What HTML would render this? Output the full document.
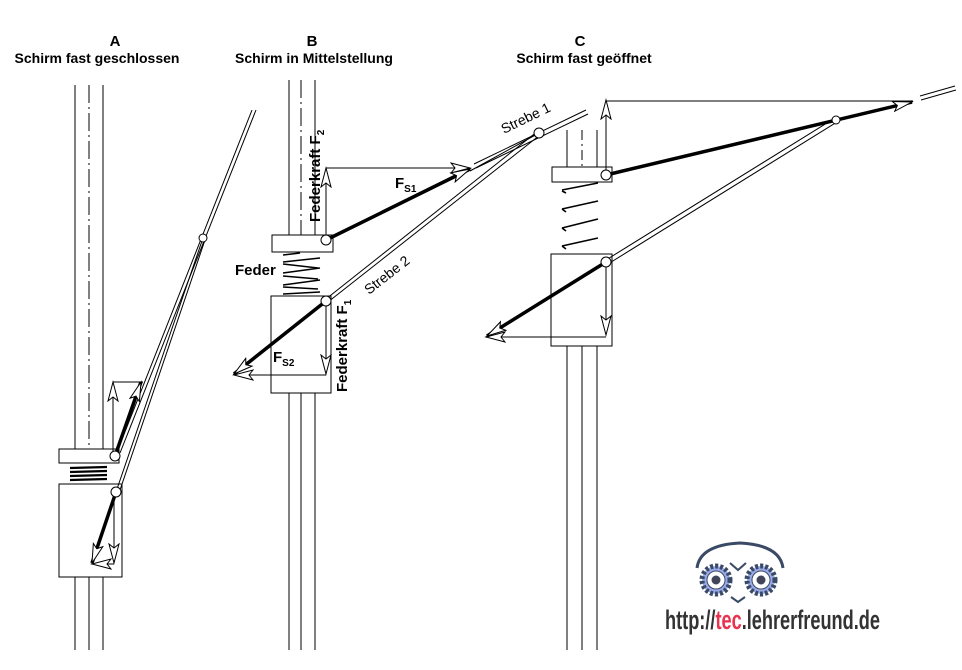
<!DOCTYPE html>
<html><head><meta charset="utf-8"><style>
html,body{margin:0;padding:0;background:#fff}
svg{display:block}
text{font-family:"Liberation Sans",Arial,sans-serif}
</style></head><body>
<svg width="962" height="670" viewBox="0 0 962 670" xmlns="http://www.w3.org/2000/svg">
<defs>
<marker id="ah" markerWidth="22" markerHeight="14" refX="20" refY="7" orient="auto" markerUnits="userSpaceOnUse">
<path d="M1,2 L20,7 L1,12 L5,7 Z" fill="#fff" stroke="#000" stroke-width="1"/>
</marker>
</defs>
<g font-weight="bold" font-size="15" text-anchor="middle" fill="#000">
<text x="115" y="46">A</text>
<text x="97" y="63" font-size="14">Schirm fast geschlossen</text>
<text x="312" y="46">B</text>
<text x="314" y="63" font-size="14">Schirm in Mittelstellung</text>
<text x="580" y="46">C</text>
<text x="584" y="63" font-size="14">Schirm fast geöffnet</text>
</g>

<!-- ===== A ===== -->
<g stroke="#000" stroke-width="1" fill="none">
<line x1="75" y1="85" x2="75" y2="449"/><line x1="103" y1="85" x2="103" y2="449"/>
<line x1="89" y1="85" x2="89" y2="449" stroke-dasharray="18,4,2,4"/>
<line x1="75" y1="577" x2="75" y2="650"/><line x1="103" y1="577" x2="103" y2="650"/><line x1="89" y1="577" x2="89" y2="650"/>
<rect x="59" y="449" width="60" height="14" fill="#fff"/>
<rect x="59" y="484" width="63" height="93" fill="#fff"/>
<g stroke-width="2.2"><line x1="70" y1="468" x2="107" y2="467"/><line x1="70" y1="472" x2="107" y2="471"/><line x1="70" y1="476" x2="107" y2="475"/><line x1="70" y1="480" x2="107" y2="479"/></g>
<line x1="117" y1="452" x2="252" y2="110"/><line x1="120" y1="453" x2="256" y2="110"/>
<line x1="117" y1="489" x2="203" y2="238"/><line x1="120" y1="490" x2="205" y2="240"/>
<circle cx="203" cy="238" r="4" fill="#fff"/>
<line x1="113" y1="456" x2="113" y2="382"/>
<line x1="113" y1="382" x2="143" y2="382"/>
<line x1="115" y1="456" x2="141" y2="382" stroke-width="3.5" marker-end="url(#ah)"/>
<line x1="113" y1="440" x2="113" y2="382" marker-end="url(#ah)"/>
<circle cx="115" cy="456" r="5" fill="#fff"/>
<line x1="114" y1="492" x2="114" y2="563" marker-end="url(#ah)"/>
<line x1="114" y1="564" x2="92" y2="564" marker-end="url(#ah)"/>
<line x1="116" y1="492" x2="92" y2="563" stroke-width="3.5" marker-end="url(#ah)"/>
<circle cx="116" cy="492" r="5" fill="#fff"/>
</g>

<!-- ===== B ===== -->
<g stroke="#000" stroke-width="1" fill="none">
<line x1="289" y1="80" x2="289" y2="235"/><line x1="315" y1="80" x2="315" y2="235"/>
<line x1="301" y1="80" x2="301" y2="235" stroke-dasharray="18,4,2,4"/>
<line x1="289" y1="393" x2="289" y2="650"/><line x1="315" y1="393" x2="315" y2="650"/><line x1="301" y1="393" x2="301" y2="650"/>
<rect x="272" y="235" width="61" height="17" fill="#fff"/>
<path d="M271,393 V296 H331 V393 Z" fill="#fff"/>
<g stroke-width="1.6">
<path d="M283,255 L300,253"/><path d="M283,262 L320,258 M283,264 L318,268"/><path d="M283,273 L320,268 M283,276 L318,279"/><path d="M283,285 L320,280 M283,287 L318,289"/><path d="M283,294 L320,292"/>
</g>
<line x1="474" y1="164" x2="586" y2="110"/><line x1="476" y1="168" x2="588" y2="114"/>
<line x1="470" y1="171" x2="539" y2="133"/>
<line x1="326" y1="299" x2="538" y2="131"/><line x1="328" y1="302" x2="540" y2="135"/>
<circle cx="539" cy="133" r="5" fill="#fff"/>
<line x1="326" y1="240" x2="326" y2="168" marker-end="url(#ah)"/>
<line x1="326" y1="168" x2="470" y2="168" marker-end="url(#ah)"/>
<line x1="326" y1="240" x2="470" y2="169" stroke-width="3.5" marker-end="url(#ah)"/>
<circle cx="326" cy="240" r="5" fill="#fff"/>
<line x1="326" y1="301" x2="326" y2="374" marker-end="url(#ah)"/>
<line x1="326" y1="375" x2="234" y2="375" marker-end="url(#ah)"/>
<line x1="326" y1="301" x2="234" y2="374" stroke-width="3.5" marker-end="url(#ah)"/>
<circle cx="326" cy="301" r="5" fill="#fff"/>
</g>
<g fill="#000" font-size="15">
<text font-weight="bold" transform="translate(320,222) rotate(-90)">Federkraft F<tspan font-size="10" dy="4">2</tspan></text>
<text font-weight="bold" transform="translate(347,392) rotate(-90)">Federkraft F<tspan font-size="10" dy="4">1</tspan></text>
<text x="235" y="275" font-weight="bold">Feder</text>
<text x="395" y="188" font-weight="bold">F<tspan font-size="10" dy="4">S1</tspan></text>
<text x="273" y="362" font-weight="bold">F<tspan font-size="10" dy="4">S2</tspan></text>
<text font-size="14" transform="translate(504,134) rotate(-26)">Strebe 1</text>
<text font-size="14" transform="translate(369,295) rotate(-38)">Strebe 2</text>
</g>

<!-- ===== C ===== -->
<g stroke="#000" stroke-width="1" fill="none">
<line x1="567" y1="130" x2="567" y2="167"/><line x1="597" y1="130" x2="597" y2="167"/><line x1="582" y1="130" x2="582" y2="167" stroke-dasharray="10,4,2,4"/>
<line x1="567" y1="346" x2="567" y2="650"/><line x1="597" y1="346" x2="597" y2="650"/><line x1="582" y1="346" x2="582" y2="650"/>
<rect x="552" y="167" width="60" height="15" fill="#fff"/>
<rect x="551" y="254" width="61" height="92" fill="#fff"/>
<g stroke-width="1.6">
<path d="M562,190 L598,183 M562,191 L566,193"/><path d="M562,209 L598,201 M562,209 L566,212"/><path d="M562,228 L598,219 M562,228 L566,231"/><path d="M562,246 L598,238 M562,246 L566,249"/>
</g>
<line x1="920" y1="96" x2="955" y2="86"/><line x1="921" y1="100" x2="956" y2="90"/>
<line x1="606" y1="260" x2="835" y2="118"/><line x1="608" y1="264" x2="837" y2="122"/>
<line x1="606" y1="175" x2="606" y2="100" marker-end="url(#ah)"/>
<line x1="606" y1="101" x2="913" y2="101"/>
<line x1="606" y1="175" x2="912" y2="102" stroke-width="3.5" marker-end="url(#ah)"/>
<circle cx="836" cy="120" r="4" fill="#fff"/>
<circle cx="606" cy="175" r="5" fill="#fff"/>
<line x1="606" y1="262" x2="606" y2="335" marker-end="url(#ah)"/>
<line x1="606" y1="337" x2="486" y2="337" marker-end="url(#ah)"/>
<line x1="606" y1="262" x2="487" y2="336" stroke-width="3.5" marker-end="url(#ah)"/>
<circle cx="606" cy="262" r="5" fill="#fff"/>
</g>

<!-- Logo -->
<g>
<path d="M697,568 Q700,545 740,543 Q780,545 783,568" fill="none" stroke="#3a4a66" stroke-width="3"/>
<g stroke="#3a4a66" stroke-width="1">
<circle cx="716" cy="580" r="14" stroke-dasharray="3,2" stroke-width="5" fill="#9aaae6"/>
<circle cx="761" cy="580" r="14" stroke-dasharray="3,2" stroke-width="5" fill="#9aaae6"/>
<circle cx="716" cy="580" r="9" fill="#fff"/>
<circle cx="761" cy="580" r="9" fill="#fff"/>
<circle cx="716" cy="580" r="4" fill="#445"/>
<circle cx="761" cy="580" r="4" fill="#445"/>
</g>
<path d="M730,563 L738,570 L746,563 M731,597 L738,602 L745,597" fill="none" stroke="#3a4a66" stroke-width="2"/>
<text x="665" y="629" font-size="27" font-weight="bold" fill="#333" textLength="215" lengthAdjust="spacingAndGlyphs">http://<tspan fill="#e8334f">tec</tspan>.lehrerfreund.de</text>
</g>
</svg>
</body></html>
